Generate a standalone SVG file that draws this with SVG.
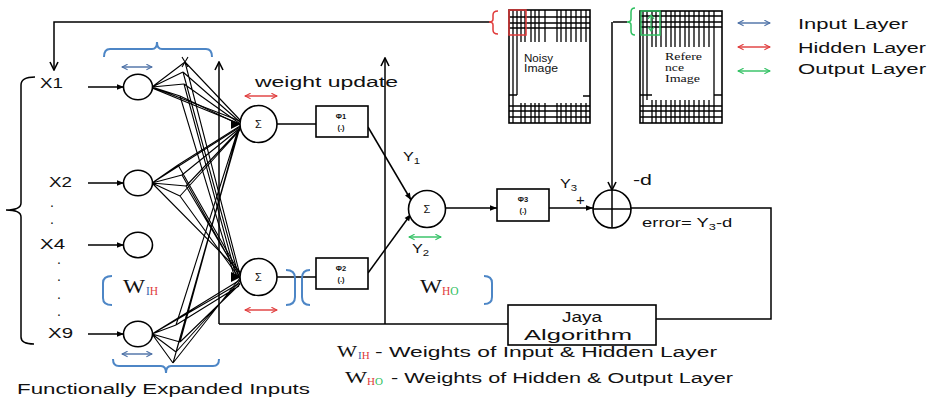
<svg xmlns="http://www.w3.org/2000/svg" width="935" height="406" viewBox="0 0 935 406">
<style>
.ln{stroke:#000;stroke-width:1.5;fill:none}
.fan{stroke:#000;stroke-width:1.1;fill:none}
.nd{stroke:#000;stroke-width:1.6;fill:#fff}
.box{stroke:#000;stroke-width:1.6;fill:#fff}
.t{font-family:"Liberation Sans",Arial,sans-serif;fill:#111}
.s{font-family:"Liberation Serif","Times New Roman",serif;fill:#111}
.bb{stroke:#4d86c6;stroke-width:2;fill:none}
.grid{stroke:#000;stroke-width:1.3;fill:none}
</style>
<defs>
<marker id="tri" viewBox="0 0 10 10" refX="10" refY="5" markerWidth="8" markerHeight="7" orient="auto" markerUnits="userSpaceOnUse"><path d="M0,1 L10,5 L0,9 z" fill="#000"/></marker>
<marker id="chev" viewBox="0 0 10 10" refX="9" refY="5" markerWidth="10" markerHeight="12" orient="auto" markerUnits="userSpaceOnUse"><path d="M1,1 L9,5 L1,9" fill="none" stroke="#000" stroke-width="1.6"/></marker>
<marker id="cb" viewBox="0 0 10 10" refX="9" refY="5" markerWidth="7" markerHeight="7" orient="auto-start-reverse" markerUnits="userSpaceOnUse"><path d="M1,1 L9,5 L1,9" fill="none" stroke="#4a6fa5" stroke-width="1.5"/></marker>
<marker id="cr" viewBox="0 0 10 10" refX="9" refY="5" markerWidth="7" markerHeight="7" orient="auto-start-reverse" markerUnits="userSpaceOnUse"><path d="M1,1 L9,5 L1,9" fill="none" stroke="#e03a3a" stroke-width="1.5"/></marker>
<marker id="cg" viewBox="0 0 10 10" refX="9" refY="5" markerWidth="7" markerHeight="7" orient="auto-start-reverse" markerUnits="userSpaceOnUse"><path d="M1,1 L9,5 L1,9" fill="none" stroke="#2ec060" stroke-width="1.5"/></marker>
</defs>
<rect width="935" height="406" fill="#fff"/>

<!-- connectors -->
<g id="connectors">
  <path class="ln" d="M490,22 L54,22 L54,70" marker-end="url(#chev)"/>
  <line class="ln" x1="88" y1="87" x2="124" y2="87" marker-end="url(#tri)"/>
  <line class="ln" x1="88" y1="183" x2="124" y2="183" marker-end="url(#tri)"/>
  <line class="ln" x1="88" y1="245" x2="124" y2="245" marker-end="url(#tri)"/>
  <line class="ln" x1="88" y1="334" x2="124" y2="334" marker-end="url(#tri)"/>
  <!-- fan weights -->
  <g class="fan">
    <path d="M152,87 L185,62 M152,87 L183,72 M152,87 L184,84 M152,87 L180,96 M152,87 L240,121 M152,88 L240,124"/>
    <path d="M185,62 L240,120 M185,62 L240,275 M183,72 L240,122 M183,72 L238,274 M184,84 L239,123 M184,84 L236,276 M180,96 L240,125 M180,96 L234,275"/>
    <path d="M182,57 L188,67 M188,57 L182,67"/>
    <path d="M152,183 L178,165 M152,183 L182,175 M152,183 L186,186 M152,183 L180,196 M152,183 L240,127 M152,183 L240,272"/>
    <path d="M178,165 L240,126 M178,165 L240,274 M182,175 L240,128 M182,175 L239,276 M186,186 L240,129 M186,186 L240,277 M180,196 L240,130 M180,196 L240,279"/>
    <path d="M152,334 L173,363 M152,334 L176,352 M152,334 L180,342 M152,334 L176,325 M152,334 L240,280 M152,334 L240,283"/>
    <path d="M173,363 L240,127 M173,363 L240,278 M176,352 L239,129 M176,352 L240,281 M180,342 L238,131 M180,342 L240,284 M176,325 L237,133 M176,325 L239,286"/>
  </g>
  <path d="M231,120 L241,124 L231,129 z M231,272 L241,277 L231,282 z" fill="#000"/>
  <line class="ln" x1="277" y1="124" x2="316" y2="124"/>
  <line class="ln" x1="277" y1="277" x2="316" y2="277"/>
  <line class="ln" x1="368" y1="127" x2="411" y2="200" marker-end="url(#tri)"/>
  <line class="ln" x1="368" y1="273" x2="411" y2="214" marker-end="url(#tri)"/>
  <line class="ln" x1="445" y1="208" x2="497" y2="208" marker-end="url(#tri)"/>
  <line class="ln" x1="549" y1="208" x2="593" y2="208" marker-end="url(#tri)"/>
  <path class="ln" d="M613,22 L627,22"/>
  <line class="ln" x1="612" y1="22" x2="612" y2="190" marker-end="url(#chev)"/>
  <path class="ln" d="M631,208 L771,208 L771,319 L656,319"/>
  <path class="ln" d="M508,324 L219,324"/>
  <line class="ln" x1="219" y1="324" x2="219" y2="62" marker-end="url(#chev)"/>
  <line class="ln" x1="385" y1="324" x2="385" y2="58" marker-end="url(#chev)"/>
</g>

<!-- input nodes -->
<g id="in1"><ellipse class="nd" cx="138" cy="87" rx="14.5" ry="12.7"/><text class="t" x="40" y="88" font-size="14" textLength="23" lengthAdjust="spacingAndGlyphs">X1</text></g>
<g id="in2"><ellipse class="nd" cx="138" cy="183" rx="14.5" ry="12.7"/><text class="t" x="49" y="187" font-size="14" textLength="23" lengthAdjust="spacingAndGlyphs">X2</text></g>
<g id="in4"><ellipse class="nd" cx="138" cy="245" rx="14.5" ry="12.7"/><text class="t" x="40" y="249" font-size="14" textLength="25" lengthAdjust="spacingAndGlyphs">X4</text></g>
<g id="in9"><ellipse class="nd" cx="138" cy="334" rx="14.5" ry="12.7"/><text class="t" x="48" y="338" font-size="14" textLength="25" lengthAdjust="spacingAndGlyphs">X9</text></g>
<g id="dots" class="t" font-size="14">
  <text x="50" y="207">.</text><text x="50" y="224">.</text>
  <text x="57" y="264">.</text><text x="57" y="281">.</text><text x="57" y="299">.</text><text x="57" y="316">.</text>
</g>

<!-- input brackets & braces -->
<g id="inputBraces">
  <path class="ln" d="M35,77 Q21,77 21,85 L21,203 Q21,210 6,210 Q21,210 21,217 L21,337 Q21,344 34,344"/>
  <path class="bb" d="M104,57 Q104,49 110,49 L152,49 Q157,49 157,42 Q157,49 162,49 L206,49 Q212,49 212,57"/>
  <path class="bb" d="M113,359 Q113,366 119,366 L161,366 Q166,366 166,373 Q166,366 171,366 L213,366 Q219,366 219,359"/>
  <line x1="122" y1="67" x2="152" y2="67" stroke="#4a6fa5" stroke-width="1.4" marker-start="url(#cb)" marker-end="url(#cb)"/>
  <line x1="122" y1="354" x2="152" y2="354" stroke="#4a6fa5" stroke-width="1.4" marker-start="url(#cb)" marker-end="url(#cb)"/>
  <text class="t" x="17" y="394" font-size="14" textLength="293" lengthAdjust="spacingAndGlyphs">Functionally Expanded Inputs</text>
</g>

<g id="wih">
  <path class="bb" d="M112,276 Q103,276 103,283 L103,298 Q103,305 112,305"/>
  <text class="s" x="123" y="293" font-size="18" textLength="22" lengthAdjust="spacingAndGlyphs">W</text>
  <text class="s" x="146" y="295" font-size="11.5"><tspan fill="#3a5fb0">I</tspan><tspan fill="#e03a3a">H</tspan></text>
</g>

<!-- hidden sums -->
<g id="sum1"><circle class="nd" cx="258.5" cy="124" r="18.5"/><text class="t" x="258.5" y="128" font-size="11" text-anchor="middle">Σ</text></g>
<g id="sum2"><circle class="nd" cx="258.5" cy="277" r="18.5"/><text class="t" x="258.5" y="281" font-size="11" text-anchor="middle">Σ</text></g>
<line x1="245" y1="96" x2="277" y2="96" stroke="#e03a3a" stroke-width="1.4" marker-start="url(#cr)" marker-end="url(#cr)"/>
<line x1="245" y1="310" x2="277" y2="310" stroke="#e03a3a" stroke-width="1.4" marker-start="url(#cr)" marker-end="url(#cr)"/>
<text class="t" x="255" y="87" font-size="14" textLength="143" lengthAdjust="spacingAndGlyphs">weight update</text>

<g id="brk2">
  <path class="bb" d="M286,270 Q295,270 295,278 L295,297 Q295,305 286,305"/>
  <path class="bb" d="M310,270 Q302,270 302,278 L302,297 Q302,305 310,305"/>
</g>

<!-- phi boxes -->
<g id="phi1"><rect class="box" x="316" y="106" width="52" height="31"/><text class="t" x="341" y="119" font-size="7.5" font-weight="bold" text-anchor="middle">Φ1</text><text class="t" x="341" y="130" font-size="7.5" font-weight="bold" text-anchor="middle">(.)</text></g>
<g id="phi2"><rect class="box" x="316" y="258" width="52" height="31"/><text class="t" x="341" y="271" font-size="7.5" font-weight="bold" text-anchor="middle">Φ2</text><text class="t" x="341" y="282" font-size="7.5" font-weight="bold" text-anchor="middle">(.)</text></g>

<!-- output sum -->
<g id="sumOut"><circle class="nd" cx="427" cy="209" r="18.5"/><text class="t" x="427" y="213" font-size="11" text-anchor="middle">Σ</text></g>
<line x1="409" y1="237" x2="441" y2="237" stroke="#2ec060" stroke-width="1.4" marker-start="url(#cg)" marker-end="url(#cg)"/>
<text class="t" transform="translate(403,161) scale(1.2,1)" font-size="13.5">Y<tspan font-size="9.5" dy="3">1</tspan></text>
<text class="t" transform="translate(412,253) scale(1.2,1)" font-size="13.5">Y<tspan font-size="9.5" dy="3">2</tspan></text>

<g id="who">
  <text class="s" x="420" y="293" font-size="18" textLength="22" lengthAdjust="spacingAndGlyphs">W</text>
  <text class="s" x="442" y="295" font-size="11.5"><tspan fill="#e03a3a">H</tspan><tspan fill="#2ec060">O</tspan></text>
  <path class="bb" d="M484,276 Q492,276 492,283 L492,297 Q492,304 484,304"/>
</g>

<g id="phi3"><rect class="box" x="497" y="189" width="52" height="32"/><text class="t" x="523" y="202" font-size="7.5" font-weight="bold" text-anchor="middle">Φ3</text><text class="t" x="523" y="213" font-size="7.5" font-weight="bold" text-anchor="middle">(.)</text></g>
<text class="t" transform="translate(560,188) scale(1.2,1)" font-size="13.5">Y<tspan font-size="9.5" dy="3">3</tspan></text>
<text class="t" x="576" y="205" font-size="15">+</text>

<!-- error node -->
<g id="errNode">
  <circle class="nd" cx="612" cy="209" r="19"/>
  <path class="ln" d="M612,190 L612,228 M593,209 L631,209"/>
  <text class="t" x="633" y="185" font-size="15" textLength="19" lengthAdjust="spacingAndGlyphs">-d</text>
  <text class="t" transform="translate(642,227) scale(1.42,1)" font-size="13">error= Y<tspan font-size="9" dy="3">3</tspan><tspan dy="-3">-d</tspan></text>
</g>

<!-- Jaya -->
<g id="jaya">
  <rect class="box" x="508" y="305" width="148" height="40"/>
  <text class="t" x="582" y="322" font-size="15.5" text-anchor="middle" textLength="40" lengthAdjust="spacingAndGlyphs">Jaya</text>
  <text class="t" x="578" y="340" font-size="15.5" text-anchor="middle" textLength="108" lengthAdjust="spacingAndGlyphs">Algorithm</text>
</g>

<!-- noisy image -->
<g id="noisy">
  <rect x="509" y="10" width="81" height="113" fill="#fff" stroke="#000" stroke-width="1.6"/>
  <g class="grid">
    <path d="M513,10 V123 M517,10 V95"/>
    <path d="M521,10 V42 M525,10 V42 M531,10 V42 M535,10 V42 M539,10 V42 M545,10 V42 M557,10 V42 M561,10 V42 M566,10 V42 M571,10 V42 M576,10 V42 M581,10 V42 M586,10 V42"/>
    <path d="M509,17 H590 M509,23 H590 M509,28 H590"/>
    <path d="M509,106 H590 M509,111 H590 M509,117 H590"/>
    <path d="M521,103 V123 M525,103 V123 M531,103 V123 M535,103 V123 M539,103 V123 M545,103 V123 M557,103 V123 M561,103 V123 M566,103 V123 M571,103 V123 M576,103 V123 M581,103 V123 M586,103 V123"/>
    <path d="M509,95 H517 M583,96 H590"/>
  </g>
  <rect x="509" y="10" width="17" height="25" fill="none" stroke="#e03a3a" stroke-width="1.5"/>
  <path d="M498,11 Q493,11 493,15 L493,19 Q493,22 489,22 Q493,22 493,25 L493,30 Q493,34 498,34" fill="none" stroke="#e03a3a" stroke-width="1.5"/>
  <text class="t" x="524" y="62" font-size="10" textLength="29" lengthAdjust="spacingAndGlyphs">Noisy</text>
  <text class="t" x="524" y="72" font-size="10" textLength="34" lengthAdjust="spacingAndGlyphs">Image</text>
</g>

<!-- reference image -->
<g id="reference">
  <rect x="640" y="11" width="82" height="112" fill="#fff" stroke="#000" stroke-width="1.6"/>
  <g class="grid">
    <path d="M643,11 V123 M647,11 V100"/>
    <path d="M652,11 V47 M656,11 V47 M661,11 V47 M666,11 V47 M671,11 V47 M675,11 V47 M680,11 V47 M685,11 V47 M689,11 V47 M694,11 V47 M699,11 V47 M704,11 V47 M709,11 V47 M714,11 V123"/>
    <path d="M640,16 H722 M640,22 H722 M640,27 H722"/>
    <path d="M640,106 H722 M640,111 H722 M640,117 H722"/>
    <path d="M652,100 V123 M656,100 V123 M661,100 V123 M666,100 V123 M671,100 V123 M675,100 V123 M680,100 V123 M685,100 V123 M689,100 V123 M694,100 V123 M699,100 V123 M704,100 V123 M709,100 V123"/>
    <path d="M640,95 H652 M714,95 H722"/>
  </g>
  <rect x="641" y="11" width="19" height="24" fill="none" stroke="#2ec060" stroke-width="1.5"/>
  <path d="M651,15 V31 M648,19 L651,15 L654,19 M648,27 L651,31 L654,27" fill="none" stroke="#2ec060" stroke-width="1.2"/>
  <path d="M635,8 Q631,8 631,12 L631,19 Q631,22 627,22 Q631,22 631,25 L631,31 Q631,35 635,35" fill="none" stroke="#2ec060" stroke-width="1.5"/>
  <rect x="663" y="50" width="44" height="34" fill="#fff"/>
  <text class="s" x="665" y="60" font-size="11" textLength="37" lengthAdjust="spacingAndGlyphs">Refere</text>
  <text class="s" x="665" y="71" font-size="11" textLength="19" lengthAdjust="spacingAndGlyphs">nce</text>
  <text class="s" x="665" y="82" font-size="11" textLength="35" lengthAdjust="spacingAndGlyphs">Image</text>
</g>

<!-- legend -->
<g id="legend">
  <line x1="738" y1="23" x2="770" y2="23" stroke="#4a6fa5" stroke-width="1.4" marker-start="url(#cb)" marker-end="url(#cb)"/>
  <line x1="738" y1="47" x2="770" y2="47" stroke="#e03a3a" stroke-width="1.4" marker-start="url(#cr)" marker-end="url(#cr)"/>
  <line x1="738" y1="71" x2="770" y2="71" stroke="#2ec060" stroke-width="1.4" marker-start="url(#cg)" marker-end="url(#cg)"/>
  <text class="t" x="798" y="29" font-size="14" textLength="110" lengthAdjust="spacingAndGlyphs">Input Layer</text>
  <text class="t" x="798" y="53" font-size="14" textLength="128" lengthAdjust="spacingAndGlyphs">Hidden Layer</text>
  <text class="t" x="798" y="74" font-size="14" textLength="128" lengthAdjust="spacingAndGlyphs">Output Layer</text>
</g>

<g id="weightsLegend">
  <text class="s" x="337" y="357" font-size="17" textLength="20" lengthAdjust="spacingAndGlyphs">W</text>
  <text class="s" x="358" y="359" font-size="11"><tspan fill="#3a5fb0">I</tspan><tspan fill="#e03a3a">H</tspan></text>
  <text class="t" x="375" y="357" font-size="14" textLength="342" lengthAdjust="spacingAndGlyphs">- Weights of Input &amp; Hidden Layer</text>
  <text class="s" x="345" y="383" font-size="17" textLength="22" lengthAdjust="spacingAndGlyphs">W</text>
  <text class="s" x="367" y="385" font-size="11"><tspan fill="#e03a3a">H</tspan><tspan fill="#2ec060">O</tspan></text>
  <text class="t" x="391" y="383" font-size="14" textLength="342" lengthAdjust="spacingAndGlyphs">- Weights of Hidden &amp; Output Layer</text>
</g>
</svg>
